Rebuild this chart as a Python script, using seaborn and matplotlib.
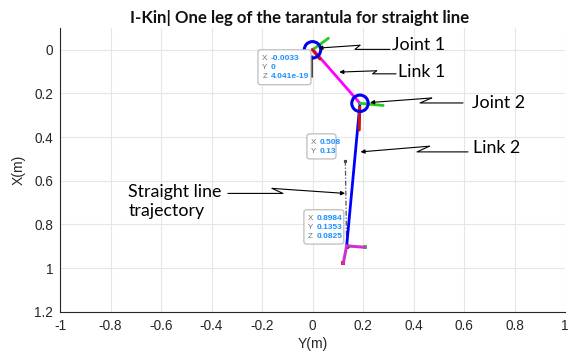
import numpy as np
import pandas as pd
import matplotlib
matplotlib.use("Agg")
import matplotlib.pyplot as plt
import seaborn as sns
from matplotlib.patches import FancyBboxPatch

# ---------------- data (horizontal = Y(m), vertical = X(m)) ----------------
link1_y = [0.0, 0.188]
link1_x = [-0.0033, 0.245]
link2_y = [0.188, 0.1353]
link2_x = [0.245, 0.8984]
traj_y = [0.13, 0.1353]
traj_x = [0.508, 0.8984]
joint_y = [0.0, 0.188]
joint_x = [0.0, 0.245]

# small coordinate-frame glyphs drawn at the joints / foot
frame_green_y = [[0.0, 0.063], [0.188, 0.28]]
frame_green_x = [[0.0, -0.053], [0.245, 0.255]]
frame_red_y = [[0.0, 0.03], [0.187, 0.185]]
frame_red_x = [[0.0, 0.042], [0.262, 0.367]]
frame_black_y = [-0.003, -0.003]
frame_black_x = [0.027, 0.126]
foot_mag_y = [[0.1353, 0.122], [0.1353, 0.208]]
foot_mag_x = [[0.8984, 0.978], [0.8984, 0.905]]

x_ticks = [-1, -0.8, -0.6, -0.4, -0.2, 0, 0.2, 0.4, 0.6, 0.8, 1]
x_tick_labels = ["-1", "-0.8", "-0.6", "-0.4", "-0.2", "0", "0.2", "0.4", "0.6", "0.8", "1"]
y_ticks = [0, 0.2, 0.4, 0.6, 0.8, 1.0, 1.2]
y_tick_labels = ["0", "0.2", "0.4", "0.6", "0.8", "1", "1.2"]

title = "I-Kin| One leg of the tarantula for straight line"

# data tips
tip1_labels = ["X", "Y", "Z"]
tip1_values = ["-0.0033", "0", "4.041e-19"]
tip2_labels = ["X", "Y"]
tip2_values = ["0.508", "0.13"]
tip3_labels = ["X", "Y", "Z"]
tip3_values = ["0.8984", "0.1353", "0.0825"]

# callouts: text, text anchor and zig-zag leader (in data units)
callout_texts = ["Joint 1", "Link 1", "Joint 2", "Link 2", "Straight line\ntrajectory"]
callout_pos = [(0.315, -0.02), (0.338, 0.1), (0.63, 0.244), (0.636, 0.45), (-0.73, 0.694)]
callout_paths = [
    ([0.307, 0.168, 0.188, 0.023], [-0.002, -0.002, -0.021, -0.008]),
    ([0.331, 0.238, 0.254, 0.106], [0.110, 0.110, 0.096, 0.102]),
    ([0.596, 0.426, 0.472, 0.228], [0.2435, 0.2435, 0.2206, 0.2416]),
    ([0.616, 0.414, 0.463, 0.19], [0.4677, 0.4677, 0.4416, 0.4677]),
    ([-0.335, -0.117, -0.160, 0.129], [0.658, 0.658, 0.635, 0.658]),
]

# ---------------- style ----------------
sns.set_style("white")
plt.rcParams["font.family"] = ["Liberation Sans", "DejaVu Sans"]

fig = plt.figure(figsize=(5.76, 3.52), dpi=100)
ax = fig.add_axes([60 / 576, 40.3 / 352, 505 / 576, 283.7 / 352])

ax.set_xlim(-1, 1)
ax.set_ylim(1.2, -0.1)
ax.set_xticks(x_ticks)
ax.set_xticklabels(x_tick_labels)
ax.set_yticks(y_ticks)
ax.set_yticklabels(y_tick_labels)
ax.grid(True, color="#e6e6e6", linewidth=0.8)
ax.set_axisbelow(True)
for s in ["top", "right"]:
    ax.spines[s].set_visible(False)
for s in ["left", "bottom"]:
    ax.spines[s].set_color("#262626")
    ax.spines[s].set_linewidth(0.8)
ax.tick_params(direction="in", length=4, width=0.8, colors="#262626", labelsize=9.8, pad=5)
ax.set_xlabel("Y(m)", fontsize=10, color="#262626", labelpad=3)
ax.set_ylabel("X(m)", fontsize=10, color="#262626", labelpad=6)

# ---------------- marks ----------------
sns.lineplot(x=traj_y, y=traj_x, sort=False, estimator=None, color="#555555",
             linewidth=0.9, linestyle=(0, (4, 1.5, 1, 1.5)), ax=ax)
sns.scatterplot(x=traj_y, y=traj_x, color="#333333", s=6, linewidth=0, ax=ax)
sns.lineplot(x=link1_y, y=link1_x, sort=False, estimator=None, color="#ff00ff", linewidth=2, ax=ax)
sns.lineplot(x=link2_y, y=link2_x, sort=False, estimator=None, color="#0000ff", linewidth=2, ax=ax)
for gy, gx in zip(frame_green_y, frame_green_x):
    sns.lineplot(x=gy, y=gx, sort=False, estimator=None, color="#22cc22", linewidth=2, ax=ax)
for ry, rx in zip(frame_red_y, frame_red_x):
    sns.lineplot(x=ry, y=rx, sort=False, estimator=None, color="#cc1111", linewidth=2.2, ax=ax)
sns.lineplot(x=frame_black_y, y=frame_black_x, sort=False, estimator=None, color="#222222",
             linewidth=1.2, ax=ax)
for my, mx in zip(foot_mag_y, foot_mag_x):
    sns.lineplot(x=my, y=mx, sort=False, estimator=None, color="#cc33cc", linewidth=2.2, ax=ax)
sns.scatterplot(x=[foot_mag_y[0][1]], y=[foot_mag_x[0][1]], color="#dd2222", s=10, marker="s",
                linewidth=0, ax=ax)
sns.scatterplot(x=[foot_mag_y[1][1]], y=[foot_mag_x[1][1]], color="#33cc33", s=8, marker="s",
                linewidth=0, ax=ax)
sns.scatterplot(x=[link2_y[1]], y=[link2_x[1]], color="#111111", s=12, linewidth=0, ax=ax)
sns.scatterplot(x=joint_y, y=joint_x, s=140, facecolor="none", edgecolor="#0000ee",
                linewidth=2.2, ax=ax, zorder=5)

# ---------------- data tips ----------------
def data_tip(y0, x0, w, h, labels, values):
    box = FancyBboxPatch((y0, x0), w, h, boxstyle="round,pad=0,rounding_size=0.012",
                         facecolor="white", edgecolor="#b5b5b5", linewidth=0.8,
                         transform=ax.transData, zorder=6, mutation_aspect=218.5 / 252.5)
    ax.add_patch(box)
    for i, (lab, val) in enumerate(zip(labels, values)):
        yy = x0 + (8.3 + 9.3 * i) / 218.5
        ax.text(y0 + 0.017, yy, lab, fontsize=5.8, color="#707070", va="center",
                ha="left", zorder=7)
        ax.text(y0 + 0.05, yy, val, fontsize=6, color="#1e90ff", va="center",
                ha="left", fontweight="bold", zorder=7)

data_tip(-0.216, 0.0, 0.21, 0.16, tip1_labels, tip1_values)
data_tip(-0.022, 0.385, 0.115, 0.115, tip2_labels, tip2_values)
data_tip(-0.034, 0.733, 0.158, 0.157, tip3_labels, tip3_values)

# ---------------- callouts ----------------
for txt, (ty, tx), (py, px) in zip(callout_texts, callout_pos, callout_paths):
    ax.text(ty, tx, txt, fontsize=12.8, family="Lato", color="black", va="center",
            ha="left", linespacing=1.25, zorder=8)
    ax.plot(py[:-1], px[:-1], color="black", linewidth=0.8, zorder=8)
    ax.annotate("", xy=(py[-1], px[-1]), xytext=(py[-2], px[-2]),
                arrowprops=dict(arrowstyle="-|>", color="black", lw=0.8,
                                mutation_scale=6, shrinkA=0, shrinkB=0), zorder=8)

fig.text(300 / 576, 1 - 18 / 352, title, ha="center", va="center", fontsize=12.1,
         fontweight="bold", family="Lato", color="#111111")

fig.savefig("out.png", dpi=100)
